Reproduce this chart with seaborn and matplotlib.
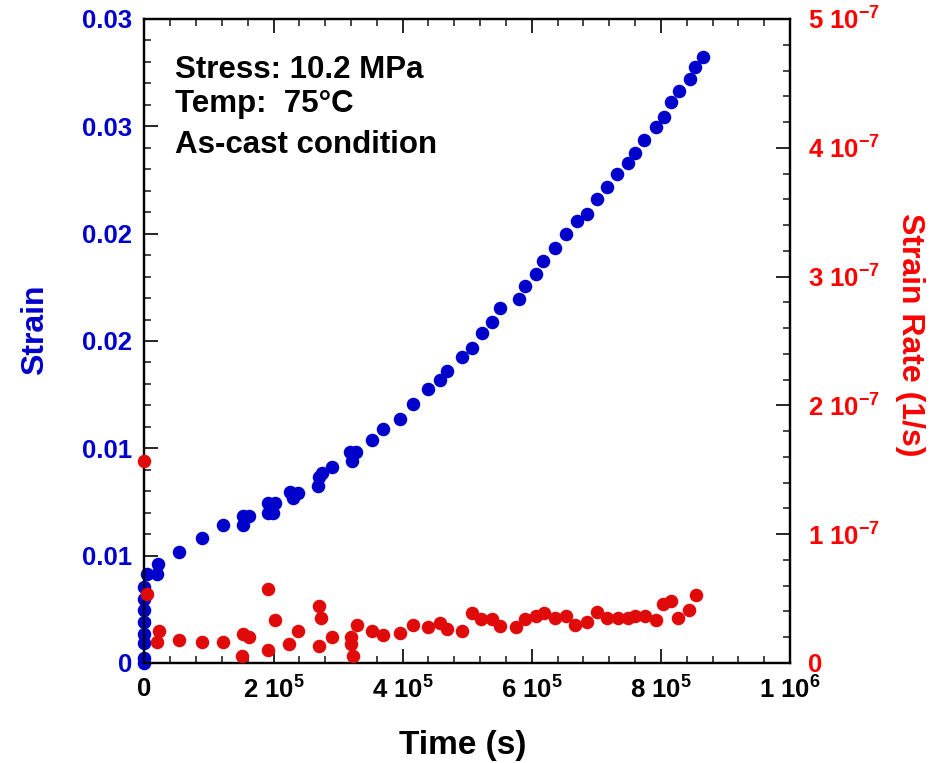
import numpy as np
import pandas as pd
import matplotlib
matplotlib.use("Agg")
import matplotlib.pyplot as plt
import seaborn as sns
from matplotlib.ticker import FixedLocator, MultipleLocator

# ---------------- data ----------------
strain_time = [0, 0, 0, 0, 0, 0, 0, 0, 4700, 20200, 21700, 52800, 88500, 121000,
               152000, 152000, 161500, 191000, 191000, 202000, 199000, 225000,
               230000, 237500, 268600, 270000, 275000, 290000, 318000, 327600,
               321400, 352500, 369600, 396000, 416000, 439500, 458000, 469000,
               492000, 507800, 523300, 538800, 551300, 580800, 590000, 607000,
               618000, 636700, 653700, 669300, 686300, 701800, 715800, 732800,
               748400, 759300, 773300, 791900, 804300, 815200, 827600, 844700,
               852500, 864900]
strain = [0.0, 0.00023, 0.00093, 0.00135, 0.00191, 0.00247, 0.00298, 0.00354,
          0.00415, 0.00415, 0.00461, 0.00517, 0.00582, 0.00643, 0.00643, 0.00685,
          0.00685, 0.00699, 0.00745, 0.00745, 0.00699, 0.00797, 0.00769, 0.00792,
          0.00824, 0.00866, 0.00885, 0.00913, 0.00983, 0.00983, 0.00941, 0.01039,
          0.01090, 0.01137, 0.01206, 0.01276, 0.01318, 0.01360, 0.01425, 0.01467,
          0.01537, 0.01588, 0.01654, 0.01696, 0.01756, 0.01812, 0.01873, 0.01933,
          0.01998, 0.02059, 0.02091, 0.02161, 0.02217, 0.02278, 0.02329, 0.02376,
          0.02436, 0.02497, 0.02543, 0.02613, 0.02664, 0.02720, 0.02776, 0.02823]

rate_time = [0, 4660, 23300, 20200, 52800, 88500, 121100, 152200, 161500, 150600,
             191000, 201900, 191000, 223600, 237600, 270200, 273300, 270200,
             290400, 319900, 319900, 323000, 329200, 352500, 369600, 396000,
             416200, 439400, 458100, 468900, 492200, 507800, 521700, 538800,
             551300, 576100, 590100, 607200, 619600, 636600, 653700, 667700,
             686300, 700300, 715800, 732900, 748400, 759300, 774800, 791900,
             802800, 815200, 826100, 843200, 854000]
rate = [1.568e-7, 5.36e-8, 2.48e-8, 1.63e-8, 1.79e-8, 1.63e-8, 1.63e-8, 2.25e-8,
        2.02e-8, 5.4e-9, 5.75e-8, 3.34e-8, 1.01e-8, 1.48e-8, 2.48e-8, 4.43e-8,
        3.49e-8, 1.32e-8, 2.02e-8, 2.02e-8, 1.48e-8, 5.4e-9, 2.95e-8, 2.48e-8,
        2.17e-8, 2.33e-8, 2.95e-8, 2.80e-8, 3.11e-8, 2.64e-8, 2.48e-8, 3.88e-8,
        3.42e-8, 3.42e-8, 2.87e-8, 2.80e-8, 3.42e-8, 3.65e-8, 3.88e-8, 3.49e-8,
        3.65e-8, 2.95e-8, 3.18e-8, 3.96e-8, 3.49e-8, 3.49e-8, 3.49e-8, 3.65e-8,
        3.65e-8, 3.34e-8, 4.58e-8, 4.81e-8, 3.49e-8, 4.11e-8, 5.28e-8]

x_ticks = [0, 2e5, 4e5, 6e5, 8e5, 1e6]
x_tick_labels = ["0", "2 10$^{5}$", "4 10$^{5}$", "6 10$^{5}$", "8 10$^{5}$", "1 10$^{6}$"]
y_ticks = [0, 0.005, 0.01, 0.015, 0.02, 0.025, 0.03]
y_tick_labels = ["0", "0.01", "0.01", "0.02", "0.02", "0.03", "0.03"]
y2_ticks = [0, 1e-7, 2e-7, 3e-7, 4e-7, 5e-7]
y2_tick_labels = ["0", "1 10$^{-7}$", "2 10$^{-7}$", "3 10$^{-7}$", "4 10$^{-7}$", "5 10$^{-7}$"]
notes = ["Stress: 10.2 MPa", "Temp:  75°C", "As-cast condition"]

# ---------------- style ----------------
sns.set_style("ticks")
plt.rcParams["font.family"] = ["Liberation Sans", "DejaVu Sans"]
plt.rcParams["font.weight"] = "bold"
plt.rcParams["mathtext.fontset"] = "custom"
plt.rcParams["mathtext.rm"] = "Liberation Sans:bold"
plt.rcParams["mathtext.bf"] = "Liberation Sans:bold"
plt.rcParams["mathtext.default"] = "bf"

BLUE = "#0000CD"
RED = "#E00A0A"
RED_TXT = "#FF0000"

fig = plt.figure(figsize=(9.35, 7.63), dpi=100)
ax = fig.add_axes([0.1545, 0.1311, 0.6904, 0.8440])
ax2 = ax.twinx()

df1 = pd.DataFrame({"t": strain_time, "v": strain})
df2 = pd.DataFrame({"t": rate_time, "v": rate})
sns.scatterplot(data=df1, x="t", y="v", ax=ax, color=BLUE, s=95, linewidth=0,
                clip_on=False, zorder=3)
sns.scatterplot(data=df2, x="t", y="v", ax=ax2, color=RED, s=95, linewidth=0,
                clip_on=False, zorder=3)

ax.set_xlim(0, 1e6)
ax.set_ylim(0, 0.03)
ax2.set_ylim(0, 5e-7)

ax.xaxis.set_major_locator(FixedLocator(x_ticks))
ax.set_xticklabels(x_tick_labels)
ax.xaxis.set_minor_locator(MultipleLocator(4e4))
ax.yaxis.set_major_locator(FixedLocator(y_ticks))
ax.set_yticklabels(y_tick_labels)
ax.yaxis.set_minor_locator(MultipleLocator(0.001))
ax2.yaxis.set_major_locator(FixedLocator(y2_ticks))
ax2.set_yticklabels(y2_tick_labels)
ax2.yaxis.set_minor_locator(MultipleLocator(2e-8))

for a in (ax, ax2):
    for sp in a.spines.values():
        sp.set_visible(True)
        sp.set_linewidth(1.6)
        sp.set_color("black")

ax.tick_params(axis="both", which="major", direction="in", length=10, width=1.4,
               labelsize=18.5, top=True, right=False)
ax.tick_params(axis="both", which="minor", direction="in", length=5, width=1.2,
               top=True, right=False)
ax.tick_params(axis="x", which="major", pad=10, labelcolor="black")
ax.tick_params(axis="y", which="major", pad=9, labelcolor=BLUE)
ax2.tick_params(axis="y", which="major", direction="in", length=10, width=1.4,
                labelsize=18.5, pad=13, labelcolor=RED_TXT)
ax2.tick_params(axis="y", which="minor", direction="in", length=5, width=1.2)

for lab in ax.get_xticklabels() + ax.get_yticklabels() + ax2.get_yticklabels():
    lab.set_fontweight("bold")

ax.set_xlabel("Time (s)", fontsize=24, fontweight="bold", color="black")
ax.xaxis.set_label_coords(0.493, -0.104)
ax.set_ylabel("Strain", fontsize=23, fontweight="bold", color=BLUE)
ax.yaxis.set_label_coords(-0.147, 0.517)
ax2.set_ylabel("Strain Rate (1/s)", fontsize=23, fontweight="bold", color=RED_TXT,
               rotation=270, va="center")
ax2.yaxis.set_label_coords(1.186, 0.509)

for txt, yy in zip(notes, [0.921, 0.868, 0.805]):
    ax.text(0.047, yy, txt, transform=ax.transAxes, fontsize=22.5, fontweight="bold",
            va="center", ha="left", color="black")

fig.savefig("out.png", dpi=100)
